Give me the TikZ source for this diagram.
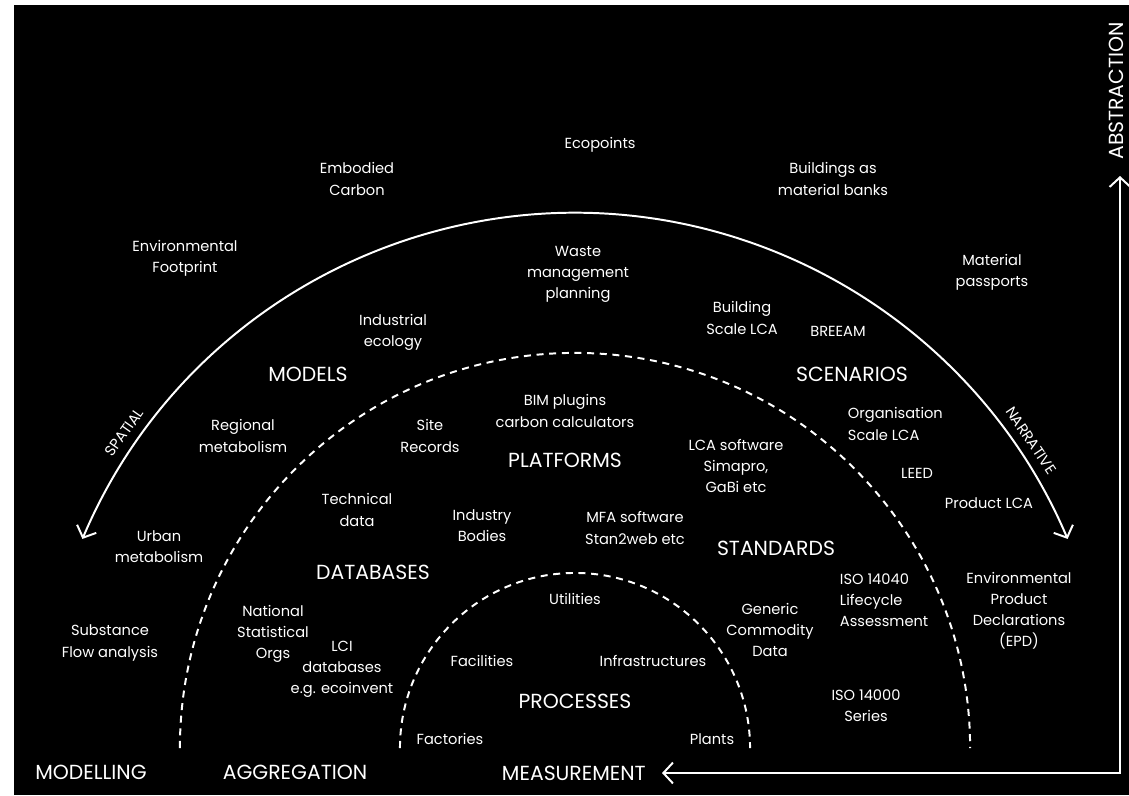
\documentclass[tikz,border=0pt]{standalone}
\usepackage{fontspec}
\setmainfont{Poppins}
\usetikzlibrary{arrows.meta,positioning}
\tikzset{
  item/.style={text=white, align=center, font=\fontsize{10.4}{15}\selectfont},
  field/.style={text=white, font=\fontsize{14.5}{16}\selectfont},
  axisname/.style={field, inner xsep=0.4cm, inner ysep=1pt},
  sense/.style={text=white, font=\fontsize{10.5}{12}\selectfont, inner sep=1pt},
  ring/.style={draw=white, line width=1.4pt},
  border/.style={ring, dash pattern=on 5pt off 4pt},
  >={Straight Barb[length=0.24cm,width=0.52cm]}
}

\begin{document}
\begin{tikzpicture}[x=0.025cm,y=-0.025cm]
\useasboundingbox (0,0) rectangle (1129,795);
\fill[white] (0,0) rectangle (1129,795);
\fill[black] (14,5) rectangle (1129,795);
%
% rings round the measurement point
\coordinate (c) at (575,748);
\draw[ring,<->] (c) ++(157:13.375cm) arc[start angle=157, end angle=23, radius=13.375cm];
\draw[border] (c) ++(180:9.875cm) arc[start angle=180, end angle=0, radius=9.875cm];
\draw[border] (c) ++(180:4.375cm) arc[start angle=180, end angle=0, radius=4.375cm];
\path (c) ++(145:13.75cm) node[sense,rotate=55] (spatial) {SPATIAL};
\path (c) ++(34:13.75cm) node[sense,rotate=-56] (narrative) {NARRATIVE};
%
% axes
\coordinate (corner) at (1120,773);
\node[axisname,rotate=90,anchor=west] (abstraction) at (1116,176) {ABSTRACTION};
\node[axisname,anchor=east] (measurement) at (662,773) {MEASUREMENT};
\draw[ring,<->,line join=miter] (measurement.east) -- (corner) -- (corner |- abstraction.west);
%
% ring names
\node[field] (models) at (308,374) {MODELS};
\node[field] (scenarios) at (852,374) {SCENARIOS};
\node[field] (platforms) at (565,460) {PLATFORMS};
\node[field] (databases) at (373,572) {DATABASES};
\node[field] (standards) at (776,548) {STANDARDS};
\node[field] (processes) at (575,701) {PROCESSES};
\node[field] (modelling) at (91,772) {MODELLING};
\node[field] (aggregation) at (295,772) {AGGREGATION};
%
% outside the arc
\node[item] (ecopoints) at (600,145) {Ecopoints};
\node[item] (embodied) at (357,179) {Embodied\\Carbon};
\node[item] (envfoot) at (185,258) {Environmental\\Footprint};
\node[item] (matbanks) at (833,179) {Buildings as\\material banks};
\node[item] (passports) at (992,272) {Material\\passports};
%
% models / scenarios
\node[item] (waste) at (578,274) {Waste\\management\\planning};
\node[item] (indeco) at (393,332) {Industrial\\ecology};
\node[item] (regional) at (243,436) {Regional\\metabolism};
\node[item] (urban) at (159,547) {Urban\\metabolism};
\node[item] (substance) at (110,643) {Substance\\Flow analysis};
\node[item] (building) at (742,318) {Building\\Scale LCA};
\node[item] (breeam) at (838,331) {BREEAM};
\node[item,align=left,anchor=west] (organisation) at (843,424) {Organisation\\Scale LCA};
\node[item] (leed) at (917,473) {LEED};
\node[item] (product) at (989,503) {Product LCA};
\node[item] (epd) at (1019,611) {Environmental\\Product\\Declarations\\(EPD)};
%
% platforms / databases / standards
\node[item] (bim) at (565,411) {BIM plugins\\carbon calculators};
\node[item] (site) at (430,436) {Site\\Records};
\node[item] (technical) at (357,510) {Technical\\data};
\node[item] (industry) at (482,526) {Industry\\Bodies};
\node[item] (mfa) at (635,528) {MFA software\\Stan2web etc};
\node[item] (lcasoft) at (736,466) {LCA software\\Simapro,\\GaBi etc};
\node[item] (national) at (273,634) {National\\Statistical\\Orgs};
\node[item] (lci) at (342,669) {LCI\\databases\\e.g. ecoinvent};
\node[item] (generic) at (770,630) {Generic\\Commodity\\Data};
\node[item,align=left,anchor=west] (iso14040) at (835,600) {ISO 14040\\Lifecycle\\Assessment};
\node[item] (iso14000) at (866,706) {ISO 14000\\Series};
%
% processes
\node[item] (utilities) at (575,599) {Utilities};
\node[item] (facilities) at (482,661) {Facilities};
\node[item] (infra) at (653,661) {Infrastructures};
\node[item] (factories) at (450,739) {Factories};
\node[item] (plants) at (712,739) {Plants};
\end{tikzpicture}
\end{document}
